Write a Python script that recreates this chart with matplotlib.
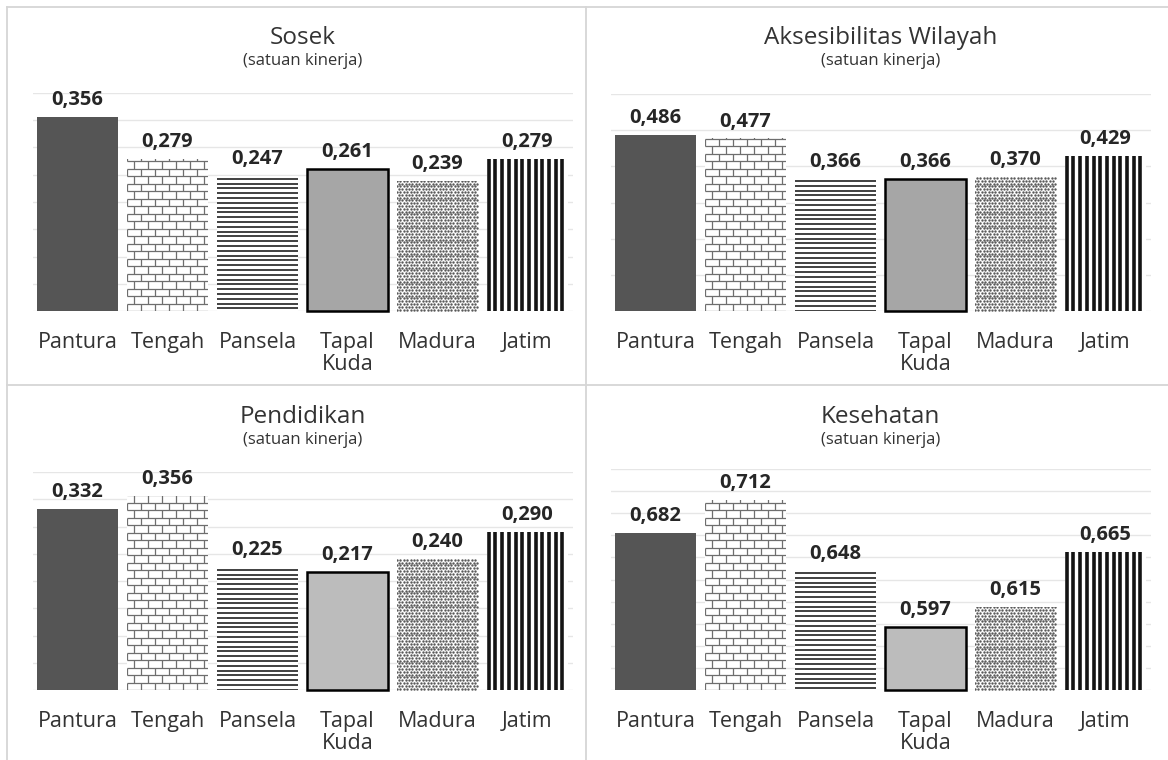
import numpy as np
import matplotlib
matplotlib.use("Agg")
import matplotlib.pyplot as plt
from matplotlib.collections import LineCollection
from matplotlib.lines import Line2D

plt.rcParams["font.family"] = ["Open Sans", "DejaVu Sans"]

# --- data ---
REGIONS = ["Pantura", "Tengah", "Pansela", "Tapal\nKuda", "Madura", "Jatim"]
SOSEK = [0.356, 0.279, 0.247, 0.261, 0.239, 0.279]
AKSESIBILITAS = [0.486, 0.477, 0.366, 0.366, 0.370, 0.429]
PENDIDIKAN = [0.332, 0.356, 0.225, 0.217, 0.240, 0.290]
KESEHATAN = [0.682, 0.712, 0.648, 0.597, 0.615, 0.665]
TITLES = ["Sosek", "Aksesibilitas Wilayah", "Pendidikan", "Kesehatan"]
SUBTITLE = "(satuan kinerja)"
# y axis: (min, max, grid step)
Y_AXES = [(0.0, 0.40, 0.05), (0.0, 0.60, 0.10), (0.0, 0.40, 0.05), (0.54, 0.74, 0.02)]

W, H, DPI = 1168, 760, 100
# axes boxes in pixels: left, top, right, bottom
BOXES = [(32.5, 93, 572.5, 311), (610.5, 94, 1150.5, 311),
         (32.5, 472, 572.5, 690), (610.5, 469, 1150.5, 690)]
TITLE_Y = [38, 38, 417, 417]
TAPAL_FILL = ["#a6a6a6", "#a6a6a6", "#bcbcbc", "#bcbcbc"]
TEXT = "#333333"


def fig_rect(l, t, r, b):
    return [l / W, 1 - b / H, (r - l) / W, (b - t) / H]


def bar_extent(bar):
    x0, y0 = bar.get_x(), bar.get_y()
    return x0, x0 + bar.get_width(), y0, y0 + bar.get_height()


def add_lines(ax, bar, segs, color, lw):
    lc = LineCollection(segs, colors=color, linewidths=lw, zorder=3)
    ax.add_collection(lc)
    lc.set_clip_path(bar)


def brick(ax, bar, sx, sy):
    x0, x1, y0, y1 = bar_extent(bar)
    row, bw = 7.5 / sy, 14.0 / sx
    ys = np.arange(y0, y1 + row, row)
    segs = [[(x0, y), (x1, y)] for y in ys]
    for i in range(len(ys) - 1):
        off = 0.5 * bw * (i % 2)
        for x in np.arange(x0 + off, x1, bw):
            segs.append([(x, ys[i]), (x, ys[i + 1])])
    add_lines(ax, bar, segs, "#6e6e6e", 0.9)


def hlines(ax, bar, sx, sy):
    x0, x1, y0, y1 = bar_extent(bar)
    step = 4.8 / sy
    segs = [[(x0, y), (x1, y)] for y in np.arange(y1 - step / 2, y0, -step)]
    add_lines(ax, bar, segs, "#404040", 1.4)


def vlines(ax, bar, sx, sy):
    x0, x1, y0, y1 = bar_extent(bar)
    step = 6.7 / sx
    segs = [[(x, y0), (x, y1)] for x in np.arange(x0 + 1.7 / sx, x1, step)]
    add_lines(ax, bar, segs, "#141414", 2.6)


def stipple(ax, bar, sx, sy):
    x0, x1, y0, y1 = bar_extent(bar)
    dx, dy = 3.4 / sx, 2.8 / sy
    pts = []
    for i, y in enumerate(np.arange(y0 + dy / 2, y1, dy)):
        off = 0.5 * dx * (i % 2)
        for x in np.arange(x0 + off, x1, dx):
            pts.append((x, y))
    pts = np.array(pts)
    sc = ax.scatter(pts[:, 0], pts[:, 1], s=3.0, marker="o", color="#5a5a5a",
                    linewidths=0, zorder=3)
    sc.set_clip_path(bar)


fig = plt.figure(figsize=(W / DPI, H / DPI), dpi=DPI)
fig.patch.set_facecolor("white")

series = [SOSEK, AKSESIBILITAS, PENDIDIKAN, KESEHATAN]
x = np.arange(len(REGIONS))

for k, vals in enumerate(series):
    l, t, r, b = BOXES[k]
    ax = fig.add_axes(fig_rect(l, t, r, b))
    ymin, ymax, step = Y_AXES[k]
    ax.set_xlim(-0.5, len(REGIONS) - 0.5)
    ax.set_ylim(ymin, ymax)
    ax.set_yticks(np.arange(ymin, ymax + step / 2, step))
    ax.yaxis.grid(True, color="#e6e6e6", lw=1)
    ax.set_axisbelow(True)
    ax.tick_params(axis="y", length=0, labelleft=False)
    ax.set_xticks(x, REGIONS)
    ax.tick_params(axis="x", length=0, pad=15, labelsize=15.5, labelcolor=TEXT)
    for lab in ax.get_xticklabels():
        lab.set_linespacing(1.05)
    for s in ax.spines.values():
        s.set_visible(False)

    vals = np.array(vals)
    faces = ["#555555", "white", "white", TAPAL_FILL[k], "white", "white"]
    bars = ax.bar(x, vals - ymin, bottom=ymin, width=0.9, color=faces,
                  edgecolor="none", zorder=2)
    tapal = bars[3]
    tapal.set_edgecolor("black")
    tapal.set_linewidth(1.8)
    tapal.set_clip_on(False)

    sx = (r - l) / len(REGIONS)
    sy = (b - t) / (ymax - ymin)
    brick(ax, bars[1], sx, sy)
    hlines(ax, bars[2], sx, sy)
    stipple(ax, bars[4], sx, sy)
    vlines(ax, bars[5], sx, sy)

    for xi, v in zip(x, vals):
        ax.annotate(f"{v:.3f}".replace(".", ","), (xi, v), xytext=(0, 5),
                    textcoords="offset points", ha="center", va="bottom",
                    fontsize=14.5, fontweight="bold", color="#262626")

    cx = (l + r) / 2 / W
    fig.text(cx, 1 - TITLE_Y[k] / H, TITLES[k], ha="center", va="center",
             fontsize=17.5, color=TEXT)
    fig.text(cx, 1 - (TITLE_Y[k] + 23) / H, SUBTITLE, ha="center", va="center",
             fontsize=12, color=TEXT)

# panel frame lines
frame = "#d6d6d6"
for xs, ys in [((7, W), (7, 7)), ((7, W), (385, 385)), ((7, 7), (7, H)),
               ((586, 586), (7, H))]:
    fig.add_artist(Line2D([v / W for v in xs], [1 - v / H for v in ys],
                          color=frame, lw=1.3, transform=fig.transFigure))

fig.savefig("out.png", dpi=DPI)
